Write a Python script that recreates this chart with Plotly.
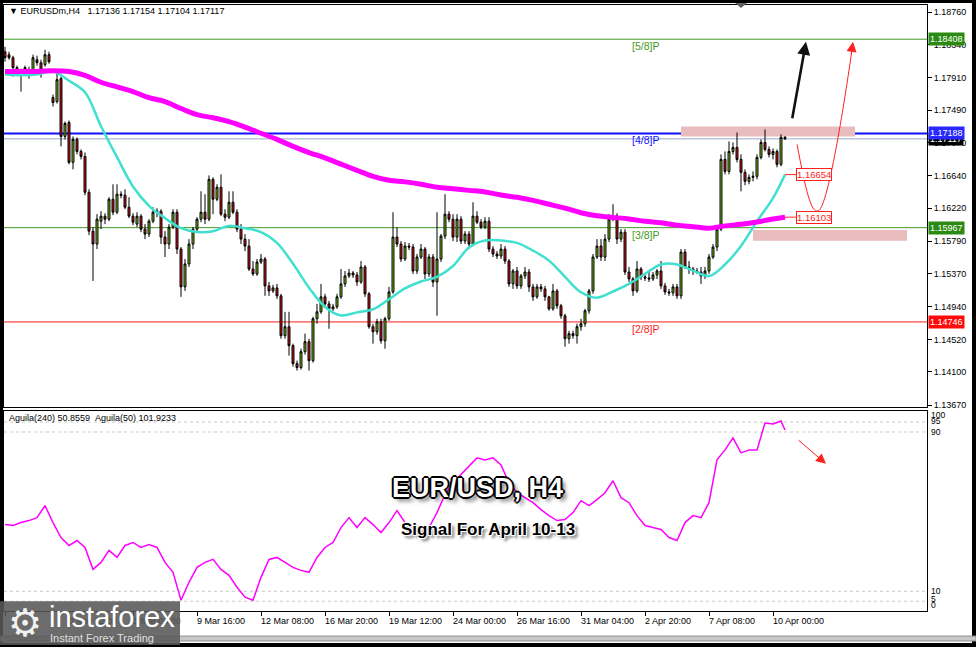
import plotly.graph_objects as go

W, H = 976, 650
FONT = "Liberation Sans, Arial, sans-serif"

# ---------------- data ----------------
bars = list(range(196))

opens = [
 1.18245, 1.18207, 1.18168, 1.18039, 1.18000, 1.17974, 1.17949, 1.17987, 1.18142, 1.18103,
 1.18078, 1.18207, 1.17652, 1.17600, 1.17897, 1.17149, 1.17329, 1.16813, 1.17110, 1.16954,
 1.16890, 1.16425, 1.15922, 1.15755, 1.16051, 1.16116, 1.16077, 1.16335, 1.16167, 1.16400,
 1.16387, 1.16232, 1.16116, 1.16013, 1.16116, 1.15948, 1.15884, 1.16051, 1.16167, 1.16180,
 1.15845, 1.15755, 1.15974, 1.16167, 1.15690, 1.15200, 1.15497, 1.15755, 1.15948, 1.16077,
 1.16167, 1.16077, 1.16593, 1.16335, 1.16490, 1.16142, 1.16103, 1.16296, 1.16167, 1.15948,
 1.15819, 1.15729, 1.15432, 1.15368, 1.15522, 1.15561, 1.15213, 1.15148, 1.15187, 1.15084,
 1.14568, 1.14684, 1.14439, 1.14207, 1.14155, 1.14361, 1.14490, 1.14245, 1.14787, 1.14877,
 1.15071, 1.14980, 1.14916, 1.14942, 1.15071, 1.15239, 1.15342, 1.15380, 1.15355, 1.15264,
 1.15458, 1.15110, 1.14684, 1.14619, 1.14748, 1.14503, 1.14787, 1.15135, 1.15845, 1.15755,
 1.15561, 1.15729, 1.15716, 1.15406, 1.15587, 1.15690, 1.15368, 1.15587, 1.15264, 1.15561,
 1.15858, 1.16142, 1.16077, 1.15845, 1.16077, 1.15793, 1.15884, 1.15755, 1.16116, 1.16038,
 1.15974, 1.16051, 1.15690, 1.15626, 1.15600, 1.15690, 1.15535, 1.15239, 1.15406, 1.15213,
 1.15342, 1.15393, 1.15200, 1.15071, 1.15200, 1.15174, 1.15071, 1.14916, 1.15148, 1.14955,
 1.14826, 1.14529, 1.14594, 1.14568, 1.14684, 1.14723, 1.14890, 1.15148, 1.15587, 1.15729,
 1.15587, 1.15819, 1.16077, 1.16116, 1.15819, 1.15909, 1.15393, 1.15303, 1.15148, 1.15432,
 1.15329, 1.15316, 1.15303, 1.15355, 1.15406, 1.15213, 1.15135, 1.15123, 1.15200, 1.15084,
 1.15651, 1.15458, 1.15432, 1.15406, 1.15393, 1.15342, 1.15406, 1.15587, 1.15716, 1.15948,
 1.16851, 1.16696, 1.16954, 1.17006, 1.16851, 1.16684, 1.16567, 1.16619, 1.16632, 1.16877,
 1.17071, 1.16980, 1.16916, 1.16954, 1.16787, 1.17136,
]
highs = [
 1.18309, 1.18245, 1.18194, 1.18065, 1.18026, 1.18065, 1.18052, 1.18207, 1.18194, 1.18142,
 1.18271, 1.18245, 1.17691, 1.17974, 1.17923, 1.17342, 1.17355, 1.17149, 1.17136, 1.16980,
 1.16941, 1.16464, 1.15974, 1.16142, 1.16180, 1.16154, 1.16361, 1.16529, 1.16529, 1.16438,
 1.16464, 1.16361, 1.16154, 1.16167, 1.16142, 1.16013, 1.16077, 1.16232, 1.16219, 1.16206,
 1.15922, 1.16013, 1.16206, 1.16206, 1.15716, 1.15561, 1.15819, 1.15974, 1.16103, 1.16438,
 1.16400, 1.16644, 1.16619, 1.16529, 1.16657, 1.16206, 1.16438, 1.16438, 1.16206, 1.16013,
 1.15884, 1.15819, 1.15535, 1.15561, 1.15626, 1.15587, 1.15264, 1.15226, 1.15239, 1.15110,
 1.14877, 1.14877, 1.14465, 1.14245, 1.14400, 1.14594, 1.14529, 1.14813, 1.14980, 1.15239,
 1.15110, 1.15019, 1.14980, 1.15110, 1.15432, 1.15406, 1.15432, 1.15406, 1.15393, 1.15535,
 1.15484, 1.15135, 1.14723, 1.14787, 1.14787, 1.14813, 1.15200, 1.16167, 1.15974, 1.15793,
 1.15780, 1.15768, 1.15755, 1.15626, 1.15755, 1.15716, 1.15626, 1.15626, 1.16167, 1.15884,
 1.16400, 1.16180, 1.16142, 1.16142, 1.16116, 1.15922, 1.15922, 1.16296, 1.16180, 1.16077,
 1.16103, 1.16103, 1.15729, 1.15664, 1.15755, 1.15729, 1.15561, 1.15432, 1.15458, 1.15368,
 1.15458, 1.15432, 1.15239, 1.15239, 1.15239, 1.15213, 1.15084, 1.15239, 1.15174, 1.14980,
 1.14852, 1.14632, 1.14632, 1.14723, 1.14787, 1.14916, 1.15174, 1.15626, 1.15819, 1.15819,
 1.15884, 1.16142, 1.16271, 1.16154, 1.15948, 1.15948, 1.15458, 1.15329, 1.15535, 1.15458,
 1.15368, 1.15393, 1.15393, 1.15432, 1.15535, 1.15252, 1.15174, 1.15239, 1.15239, 1.15690,
 1.15690, 1.15535, 1.15458, 1.15445, 1.15458, 1.15458, 1.15626, 1.15755, 1.15974, 1.16916,
 1.16954, 1.17084, 1.17071, 1.17200, 1.16916, 1.16722, 1.16657, 1.16696, 1.16916, 1.17110,
 1.17239, 1.17020, 1.16993, 1.16980, 1.17175, 1.17154,
]
lows = [
 1.18116, 1.18142, 1.17923, 1.17949, 1.17729, 1.17949, 1.17897, 1.17961, 1.18065, 1.17910,
 1.18052, 1.18090, 1.17536, 1.17574, 1.17020, 1.17110, 1.16787, 1.16722, 1.16916, 1.16851,
 1.16387, 1.15871, 1.15277, 1.15690, 1.15948, 1.16013, 1.16051, 1.16129, 1.16142, 1.16348,
 1.16206, 1.16090, 1.16000, 1.15974, 1.15909, 1.15819, 1.15845, 1.16025, 1.16103, 1.15755,
 1.15587, 1.15690, 1.15948, 1.15626, 1.15071, 1.15148, 1.15458, 1.15690, 1.15909, 1.16038,
 1.16013, 1.16051, 1.16142, 1.16309, 1.16116, 1.16051, 1.16077, 1.16142, 1.15909, 1.15755,
 1.15664, 1.15406, 1.15342, 1.15342, 1.15497, 1.15084, 1.15084, 1.15123, 1.15045, 1.14529,
 1.14529, 1.14310, 1.14168, 1.14116, 1.14129, 1.14323, 1.14116, 1.14219, 1.14723, 1.14852,
 1.14942, 1.14658, 1.14890, 1.14916, 1.15045, 1.15200, 1.15316, 1.15316, 1.15213, 1.15239,
 1.15071, 1.14658, 1.14465, 1.14581, 1.14465, 1.14400, 1.14761, 1.15110, 1.15716, 1.15522,
 1.15535, 1.15677, 1.15368, 1.15368, 1.15561, 1.15303, 1.15329, 1.15200, 1.14826, 1.15522,
 1.15819, 1.16038, 1.15793, 1.15780, 1.15755, 1.15755, 1.15690, 1.15729, 1.16013, 1.15948,
 1.15948, 1.15651, 1.15587, 1.15561, 1.15561, 1.15497, 1.15200, 1.15174, 1.15174, 1.15174,
 1.15303, 1.15135, 1.15019, 1.15045, 1.15135, 1.15019, 1.14890, 1.14890, 1.14916, 1.14787,
 1.14426, 1.14465, 1.14529, 1.14465, 1.14632, 1.14684, 1.14852, 1.15110, 1.15561, 1.15535,
 1.15535, 1.15780, 1.16051, 1.15755, 1.15780, 1.15355, 1.15264, 1.15084, 1.15123, 1.15290,
 1.15277, 1.15264, 1.15277, 1.15303, 1.15174, 1.15097, 1.15084, 1.15084, 1.15045, 1.15045,
 1.15432, 1.15368, 1.15355, 1.15368, 1.15239, 1.15303, 1.15368, 1.15561, 1.15664, 1.15922,
 1.16657, 1.16657, 1.16916, 1.16813, 1.16438, 1.16516, 1.16529, 1.16567, 1.16593, 1.16851,
 1.16954, 1.16877, 1.16851, 1.16748, 1.16761, 1.17104,
]
closes = [
 1.18168, 1.18168, 1.18039, 1.17987, 1.17987, 1.18039, 1.18013, 1.18168, 1.18103, 1.17961,
 1.18207, 1.18116, 1.17587, 1.17884, 1.17149, 1.17316, 1.16813, 1.17110, 1.16954, 1.16890,
 1.16425, 1.15922, 1.15755, 1.16077, 1.16116, 1.16077, 1.16335, 1.16167, 1.16400, 1.16387,
 1.16232, 1.16116, 1.16038, 1.16116, 1.15948, 1.15884, 1.16051, 1.16167, 1.16180, 1.15845,
 1.15755, 1.15974, 1.16167, 1.15690, 1.15200, 1.15497, 1.15755, 1.15948, 1.16077, 1.16167,
 1.16077, 1.16593, 1.16335, 1.16490, 1.16142, 1.16103, 1.16296, 1.16167, 1.15948, 1.15819,
 1.15729, 1.15432, 1.15368, 1.15522, 1.15561, 1.15213, 1.15148, 1.15187, 1.15084, 1.14568,
 1.14684, 1.14439, 1.14207, 1.14155, 1.14361, 1.14490, 1.14245, 1.14787, 1.14877, 1.15071,
 1.14980, 1.14916, 1.14942, 1.15071, 1.15239, 1.15342, 1.15380, 1.15355, 1.15264, 1.15458,
 1.15110, 1.14684, 1.14619, 1.14748, 1.14503, 1.14787, 1.15135, 1.15845, 1.15755, 1.15561,
 1.15729, 1.15716, 1.15406, 1.15587, 1.15690, 1.15368, 1.15587, 1.15264, 1.15561, 1.15858,
 1.16142, 1.16077, 1.15845, 1.16077, 1.15793, 1.15884, 1.15755, 1.16116, 1.16038, 1.15974,
 1.16051, 1.15690, 1.15626, 1.15600, 1.15690, 1.15535, 1.15239, 1.15406, 1.15213, 1.15342,
 1.15393, 1.15200, 1.15071, 1.15200, 1.15174, 1.15071, 1.14916, 1.15148, 1.14955, 1.14826,
 1.14529, 1.14594, 1.14568, 1.14684, 1.14723, 1.14890, 1.15148, 1.15587, 1.15729, 1.15587,
 1.15819, 1.16077, 1.16116, 1.15819, 1.15909, 1.15393, 1.15303, 1.15148, 1.15432, 1.15329,
 1.15316, 1.15303, 1.15355, 1.15406, 1.15213, 1.15135, 1.15123, 1.15200, 1.15084, 1.15651,
 1.15458, 1.15432, 1.15406, 1.15393, 1.15342, 1.15406, 1.15587, 1.15716, 1.15948, 1.16851,
 1.16696, 1.16954, 1.17006, 1.16851, 1.16684, 1.16567, 1.16619, 1.16632, 1.16877, 1.17071,
 1.16980, 1.16916, 1.16954, 1.16787, 1.17136, 1.17117,
]

ma_idx = list(range(0, 196, 4)) + [195]
ma_slow = [
 1.1799, 1.1799, 1.1799, 1.1800, 1.1799, 1.1794, 1.1785, 1.1779, 1.1773, 1.1765,
 1.1760, 1.1751, 1.1743, 1.1739, 1.1734, 1.1727, 1.1719, 1.1711, 1.1702, 1.1694,
 1.1687, 1.1679, 1.1671, 1.1663, 1.1658, 1.1656, 1.1653, 1.1649, 1.1647, 1.1645,
 1.1643, 1.1639, 1.1636, 1.1632, 1.1627, 1.1622, 1.1616, 1.1612, 1.1610, 1.1608,
 1.1605, 1.1603, 1.1600, 1.1598, 1.1596, 1.1599, 1.1601, 1.1604, 1.1608, 1.16103,
]
ma_fast = [
 1.1795, 1.1794, 1.1795, 1.1799, 1.1787, 1.1772, 1.1728, 1.1688, 1.1650, 1.1625,
 1.1609, 1.1596, 1.1591, 1.1592, 1.1599, 1.1596, 1.1591, 1.1577, 1.1550, 1.1519,
 1.1494, 1.1483, 1.1487, 1.1491, 1.1504, 1.1518, 1.1527, 1.1533, 1.1547, 1.1571,
 1.1580, 1.1580, 1.1577, 1.1567, 1.1554, 1.1533, 1.1513, 1.1506, 1.1514, 1.1524,
 1.1537, 1.1549, 1.1549, 1.1541, 1.1534, 1.1549, 1.1573, 1.1605, 1.1635, 1.16654,
]

osc_idx = list(range(0, 196, 2)) + [195]
osc = [
 43.5, 43, 44.5, 45.5, 47, 53, 44.5, 37, 33, 35.5,
 32, 21, 24.5, 30.5, 27, 33, 34.5, 32, 33.5, 32,
 24.5, 19.5, 5.5, 14.5, 22, 24.5, 26, 21, 18, 12,
 7, 5.5, 17, 26, 27, 24.5, 22, 20.5, 19.5, 27,
 32, 34.5, 42, 47, 42, 47, 43.5, 39.5, 44.5, 50.5,
 44.5, 38.5, 39.5, 42, 49.5, 58.5, 64.5, 68.5, 73, 77,
 76, 77, 73.5, 64.5, 59.5, 57, 54.5, 51, 48, 45.5,
 46, 49.5, 55.5, 53, 56, 59.5, 65.5, 57, 54.5, 48,
 43, 42, 41, 37, 35.5, 44.5, 48, 47, 54.5, 76,
 81, 87, 79.5, 81, 81, 94.5, 94, 95.5, 91,
]

tick_idx = list(range(0, 196, 16))
tick_text = ["2 Mar 2026", "3 Mar 12:00", "5 Mar 00:00", "9 Mar 16:00", "12 Mar 08:00",
             "16 Mar 20:00", "19 Mar 12:00", "24 Mar 00:00", "26 Mar 16:00",
             "31 Mar 04:00", "2 Apr 20:00", "7 Apr 08:00", "10 Apr 00:00"]

price_ticks = [1.18760, 1.18340, 1.17910, 1.17490, 1.17070, 1.16640, 1.16220,
               1.15790, 1.15370, 1.14940, 1.14520, 1.14100, 1.13670]

levels = {"[5/8]P": 1.18408, "[4/8]P": 1.17188, "[3/8]P": 1.15967, "[2/8]P": 1.14746}
level_colors = {"[5/8]P": "#3f9a22", "[4/8]P": "#1010ff", "[3/8]P": "#3f9a22", "[2/8]P": "#ff1a1a"}
box_colors = {"[5/8]P": "#2b8a12", "[4/8]P": "#2828ff", "[3/8]P": "#2b8a12", "[2/8]P": "#ff0a0a"}
last_price = 1.17117
osc_levels = [5, 10, 90, 95]

resist_zone = (1.17149, 1.17278)
support_zone = (1.15796, 1.15937)

assert len(opens) == len(highs) == len(lows) == len(closes) == len(bars)
assert len(ma_slow) == len(ma_idx) == len(ma_fast)
assert len(osc) == len(osc_idx)

# ---------------- helpers (pixel -> paper) ----------------
def px(x):
    return x / W

def py(y):
    return 1 - y / H

def bx(x):  # pixel -> bar-index data coordinate
    return (x - 5) / 4.0

fig = go.Figure()

fig.add_trace(go.Candlestick(
    x=bars, open=opens, high=highs, low=lows, close=closes,
    increasing=dict(line=dict(color="#000000", width=1), fillcolor="#7ec21e"),
    decreasing=dict(line=dict(color="#000000", width=1), fillcolor="#d3121c"),
    whiskerwidth=0, xaxis="x", yaxis="y", hoverinfo="skip", showlegend=False))

fig.add_trace(go.Scatter(x=ma_idx, y=ma_fast, mode="lines",
                         line=dict(color="#40e0d0", width=2.5, shape="spline"),
                         xaxis="x", yaxis="y", hoverinfo="skip"))
fig.add_trace(go.Scatter(x=ma_idx, y=ma_slow, mode="lines",
                         line=dict(color="#ff00ff", width=5, shape="spline"),
                         xaxis="x", yaxis="y", hoverinfo="skip"))

fig.add_trace(go.Scatter(x=osc_idx, y=osc, mode="lines",
                         line=dict(color="#ff00ff", width=1.5),
                         xaxis="x2", yaxis="y2", hoverinfo="skip"))

shapes = []
# zones (behind)
shapes.append(dict(type="rect", xref="x", yref="y", x0=bx(681), x1=bx(855),
                   y0=resist_zone[0], y1=resist_zone[1], fillcolor="#e9bdbd",
                   line=dict(width=0), layer="below"))
shapes.append(dict(type="rect", xref="x", yref="y", x0=bx(753), x1=bx(907),
                   y0=support_zone[0], y1=support_zone[1], fillcolor="#e9bdbd",
                   line=dict(width=0), layer="below"))
# level lines
for name, val in levels.items():
    shapes.append(dict(type="line", xref="x domain", yref="y", x0=0, x1=1, y0=val, y1=val,
                       line=dict(color=level_colors[name], width=2 if name == "[4/8]P" else 1),
                       layer="below"))
shapes.append(dict(type="line", xref="x domain", yref="y", x0=0, x1=1, y0=last_price, y1=last_price,
                   line=dict(color="#9aaac4", width=1), layer="below"))
# oscillator dashed levels
for lv in osc_levels:
    shapes.append(dict(type="line", xref="x2 domain", yref="y2", x0=0, x1=1, y0=lv, y1=lv,
                       line=dict(color="#c8c8c8", width=1, dash="3px,3px"), layer="below"))
# connectors from MA ends to value boxes
shapes.append(dict(type="line", xref="x", yref="y", x0=195, x1=bx(796), y0=ma_fast[-1], y1=ma_fast[-1],
                   line=dict(color="#ff2020", width=1)))
shapes.append(dict(type="line", xref="x", yref="y", x0=195, x1=bx(796), y0=ma_slow[-1], y1=ma_slow[-1],
                   line=dict(color="#ff2020", width=1)))
# red U-curve
def P(x, y):
    return f"{px(x):.5f},{py(y):.5f}"
shapes.append(dict(type="path", xref="paper", yref="paper",
                   path=f"M {P(797,145)} C {P(806,192)} {P(811,214)} {P(818,212)} C {P(827,210)} {P(842,120)} {P(852,50)}",
                   line=dict(color="#ff2020", width=1)))
# frame / chrome
shapes += [
    dict(type="rect", xref="paper", yref="paper", x0=0, x1=1, y0=py(3), y1=1,
         fillcolor="black", line=dict(width=0)),
    dict(type="rect", xref="paper", yref="paper", x0=0, x1=px(3), y0=0, y1=1,
         fillcolor="black", line=dict(width=0)),
    dict(type="rect", xref="paper", yref="paper", x0=px(972), x1=1, y0=0, y1=1,
         fillcolor="black", line=dict(width=0)),
    dict(type="rect", xref="paper", yref="paper", x0=0, x1=1, y0=py(644), y1=py(639),
         fillcolor="#c8c8c8", line=dict(color="#909090", width=1)),
    dict(type="rect", xref="paper", yref="paper", x0=0, x1=1, y0=0, y1=py(646),
         fillcolor="black", line=dict(width=0)),
    dict(type="path", xref="paper", yref="paper",
         path=f"M {P(735,3)} L {P(747,3)} L {P(741,8)} Z", fillcolor="#606060", line=dict(width=0)),
    # logo plate
    dict(type="rect", xref="paper", yref="paper", x0=0, x1=px(180), y0=py(648), y1=py(604),
         fillcolor="rgba(88,88,88,0.88)", line=dict(width=0)),
]

ann = []
small = dict(family=FONT, size=9, color="black")
ann.append(dict(xref="paper", yref="paper", x=px(7), y=py(11), xanchor="left", yanchor="middle",
                text="▼ EURUSDm,H4\u00a0\u00a0 1.17136 1.17154 1.17104 1.17117", showarrow=False, font=small))
ann.append(dict(xref="paper", yref="paper", x=px(7), y=py(420), xanchor="left", yanchor="middle",
                text="Aguila(240) 50.8559\u00a0\u00a0Aguila(50) 101.9233", showarrow=False, font=small))

# x labels
for i, (t, lab) in enumerate(zip(tick_idx, tick_text)):
    col = "rgba(40,40,40,0.45)" if i < 3 else "black"
    ann.append(dict(xref="x2", yref="paper", x=t - 0.4, y=py(624), xanchor="left", yanchor="middle",
                    text=lab, showarrow=False, font=dict(family=FONT, size=9, color=col)))

# level labels on chart
lab_y = {"[5/8]P": 46, "[4/8]P": 141, "[3/8]P": 236, "[2/8]P": 331}
for name in levels:
    ann.append(dict(xref="x", yref="paper", x=bx(630), y=py(lab_y[name]), xanchor="left", yanchor="middle",
                    text=name, showarrow=False,
                    font=dict(family=FONT, size=10.5, color=level_colors[name])))

# right price boxes
def price_box(val, bg, fg="white"):
    return dict(xref="paper", yref="y", x=px(928), y=val, xanchor="left", yanchor="middle",
                text=f"{val:.5f}", showarrow=False, bgcolor=bg, borderpad=1,
                font=dict(family=FONT, size=9, color=fg))
ann.append(price_box(last_price, "#000000"))
for name, val in levels.items():
    ann.append(price_box(val, box_colors[name]))

# MA value boxes
for v in (ma_fast[-1], ma_slow[-1]):
    ann.append(dict(xref="x", yref="y", x=bx(796), y=v, xanchor="left", yanchor="middle",
                    text=f"{v:.5f}", showarrow=False, bgcolor="white", bordercolor="#ff2020",
                    borderwidth=1, borderpad=0, font=dict(family=FONT, size=9.5, color="#ff2020")))

# oscillator scale labels
for lab, ypx in [("100", 417), ("95", 423), ("90", 434), ("10", 594), ("5", 602), ("0", 608)]:
    ann.append(dict(xref="paper", yref="paper", x=px(929), y=py(ypx), xanchor="left", yanchor="middle",
                    text=lab, showarrow=False, font=dict(family=FONT, size=8.5, color="black")))

# arrows
ann.append(dict(xref="paper", yref="paper", x=px(806), y=py(42), ax=-14, ay=78, text="",
                showarrow=True, arrowhead=2, arrowsize=1, arrowwidth=2.6, arrowcolor="#111111"))
ann.append(dict(xref="paper", yref="paper", x=px(853), y=py(42), ax=-2, ay=14, text="",
                showarrow=True, arrowhead=2, arrowsize=2, arrowwidth=1, arrowcolor="#ff2020"))
ann.append(dict(xref="paper", yref="paper", x=px(826), y=py(466), ax=-29, ay=-25, text="",
                showarrow=True, arrowhead=2, arrowsize=2, arrowwidth=1, arrowcolor="#ff2020"))

# big titles
ann.append(dict(xref="paper", yref="paper", x=px(477), y=py(490), xanchor="center", yanchor="middle",
                text="<b>EUR/USD, H4</b>", showarrow=False,
                font=dict(family=FONT, size=27, color="white",
                          shadow="-1px -1px 0 #000, 1px -1px 0 #000, -1px 1px 0 #000, 1px 1px 0 #000, "
                                 "-2px 0 0 #000, 2px 0 0 #000, 0 2px 0 #000, 0 -2px 0 #000, 4px 4px 4px rgba(0,0,0,0.55)")))
ann.append(dict(xref="paper", yref="paper", x=px(488), y=py(532), xanchor="center", yanchor="middle",
                text="<b>Signal For April 10-13</b>", showarrow=False,
                font=dict(family=FONT, size=17, color="black",
                          shadow="-1px -1px 0 #fff, 1px -1px 0 #fff, -1px 1px 0 #fff, 1px 1px 0 #fff, 3px 3px 3px rgba(0,0,0,0.6)")))

# logo
ann.append(dict(xref="paper", yref="paper", x=px(25), y=py(626), xanchor="center", yanchor="middle",
                text="⚙", showarrow=False, font=dict(family="DejaVu Sans", size=38, color="rgba(255,255,255,0.92)")))
ann.append(dict(xref="paper", yref="paper", x=px(47), y=py(620), xanchor="left", yanchor="middle",
                text="instaforex", showarrow=False, font=dict(family=FONT, size=29, color="white")))
ann.append(dict(xref="paper", yref="paper", x=px(48), y=py(641), xanchor="left", yanchor="middle",
                text="Instant Forex Trading", showarrow=False, font=dict(family=FONT, size=11, color="#e0e0e0")))

axis_common = dict(showgrid=False, zeroline=False, showline=True, linecolor="black",
                   linewidth=1, mirror=True, fixedrange=True)

fig.update_layout(
    width=W, height=H, margin=dict(l=0, r=0, t=0, b=0),
    paper_bgcolor="white", plot_bgcolor="white", showlegend=False,
    xaxis=dict(domain=[px(4), px(927)], range=[-0.25, 230.5], showticklabels=False, ticks="",
               rangeslider=dict(visible=False), anchor="y", **axis_common),
    yaxis=dict(domain=[py(409), py(5)], range=[1.13643, 1.18851], side="right",
               tickvals=price_ticks, ticktext=[f"{v:.5f}" for v in price_ticks],
               ticks="outside", ticklen=4, tickcolor="black",
               tickfont=dict(family=FONT, size=9, color="black"), anchor="x", **axis_common),
    xaxis2=dict(domain=[px(4), px(927)], range=[-0.25, 230.5], anchor="y2",
                tickvals=tick_idx, ticks="outside", ticklen=4, tickcolor="black",
                showticklabels=False, **axis_common),
    yaxis2=dict(domain=[py(614), py(413)], range=[0, 100.5], anchor="x2",
                showticklabels=False, ticks="", **axis_common),
    shapes=shapes, annotations=ann,
)

fig.write_html("out.html", config={"displayModeBar": False, "staticPlot": True},
               post_script="document.body.style.margin='0';document.body.style.overflow='hidden';")
